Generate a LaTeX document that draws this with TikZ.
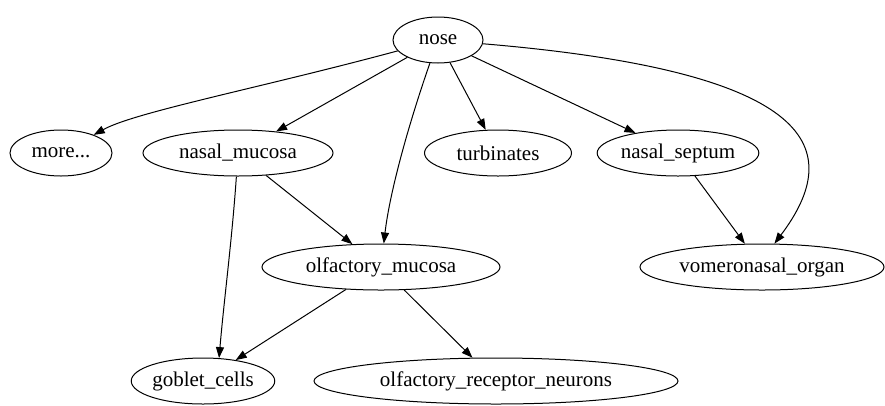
\documentclass[tikz,border=0pt]{standalone}
\usepackage{fontspec}
\setmainfont{Liberation Serif}
\usetikzlibrary{shapes.geometric,arrows.meta}
\begin{document}
\begin{tikzpicture}[x=1pt,y=-1pt,
  every node/.style={font=\fontsize{21}{24}\selectfont},
  onto/.style={ellipse,draw,line width=1pt,inner sep=0pt,minimum height=46pt},
  link/.style={line width=1pt,-{Triangle[length=11pt,width=8pt]}}]
\useasboundingbox (0,0) rectangle (885,405);
% ontology terms
\node[onto,minimum width=90pt]  (nose)  at (438,40)  {nose};
\node[onto,minimum width=102pt] (more)  at (61,153)  {more...};
\node[onto,minimum width=190pt] (nm)    at (238,153) {nasal\_mucosa};
\node[onto,minimum width=147pt] (turb)  at (498,153) {turbinates};
\node[onto,minimum width=150pt] (ns)    at (678,153) {nasal\_septum};
\node[onto,minimum width=238pt] (om)    at (381,267) {olfactory\_mucosa};
\node[onto,minimum width=244pt] (vno)   at (762,267) {vomeronasal\_organ};
\node[onto,minimum width=134pt] (gc)    at (203,381) {goblet\_cells};
\node[onto,minimum width=364pt] (orn)   at (496,381) {olfactory\_receptor\_neurons};
% part-of relations
\draw[link] (nose) .. controls (260,88) and (135,112) .. (more);
\draw[link] (nose) -- (nm);
\draw[link] (nose) .. controls (410,120) and (390,190) .. (om);
\draw[link] (nose) -- (turb);
\draw[link] (nose) -- (ns);
\draw[link] (nose) .. controls (820,72) and (845,150) .. (vno.62);
\draw[link] (nm) -- (om);
\draw[link] (nm) .. controls (232,240) and (224,300) .. (gc.55);
\draw[link] (ns) -- (vno);
\draw[link] (om) -- (gc);
\draw[link] (om) -- (orn);
\end{tikzpicture}
\end{document}
